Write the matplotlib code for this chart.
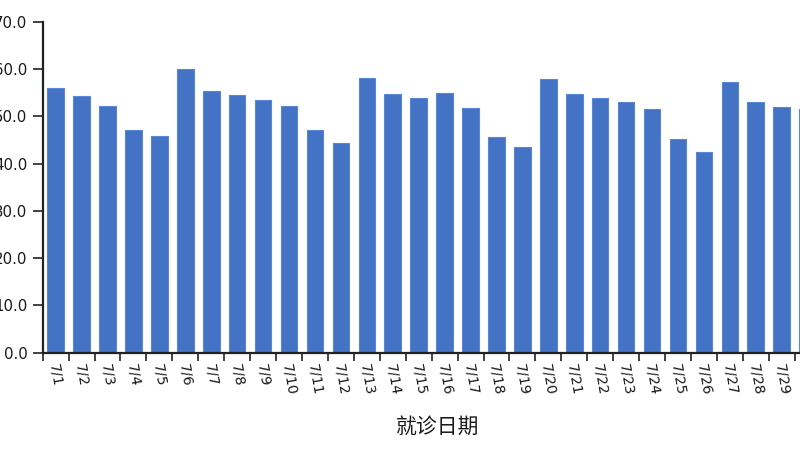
import matplotlib
matplotlib.use("Agg")
import matplotlib.pyplot as plt
import numpy as np

dates = [f"7/{d}" for d in range(1, 31)]
values = [55.9, 54.2, 52.2, 47.0, 45.8, 60.0, 55.4, 54.5, 53.4, 52.2,
          47.0, 44.3, 58.0, 54.8, 53.9, 55.0, 51.7, 45.7, 43.5, 57.8,
          54.8, 53.9, 53.1, 51.5, 45.1, 42.4, 57.2, 53.1, 52.0, 51.5]
y_ticks = [0, 10, 20, 30, 40, 50, 60, 70]
x_title = "就诊日期"

plt.rcParams['font.family'] = ['DejaVu Sans', 'Noto Sans CJK SC']

fig = plt.figure(figsize=(8, 4.5), dpi=100)
ax = fig.add_axes([42.7 / 800, 1 - 352.7 / 450, 777.9 / 800, 331.0 / 450])

x = np.arange(len(dates))
ax.bar(x, values, width=0.64, color='#4472C4', edgecolor='#5a86d6',
       linewidth=0.8, joinstyle='round', zorder=2)

ax.set_xlim(-0.5, len(dates) - 0.5)
ax.set_ylim(0, 70)
ax.set_yticks(y_ticks)
ax.set_yticklabels([f"{v:.1f}" for v in y_ticks], fontsize=10.8, color='#1a1a1a')

# boundary ticks (major), labels at centers (minor)
ax.set_xticks(np.arange(-0.5, len(dates) + 0.5, 1.0))
ax.set_xticklabels([])
ax.set_xticks(x, dates, minor=True)
ax.tick_params(axis='x', which='major', length=5.5, width=1.2, color='#222222')
ax.tick_params(axis='x', which='minor', length=0, pad=7.5)
for lbl in ax.get_xticklabels(minor=True):
    lbl.set_rotation(-80)
    lbl.set_ha('center')
    lbl.set_va('top')
    lbl.set_fontsize(10.2)
    lbl.set_color('#1a1a1a')
ax.tick_params(axis='y', length=7, width=1.2, color='#222222', pad=4)

for side in ['top', 'right']:
    ax.spines[side].set_visible(False)
for side in ['left', 'bottom']:
    ax.spines[side].set_linewidth(1.6)
    ax.spines[side].set_color('#222222')

ax.set_xlabel(x_title, fontsize=15, family=['Noto Sans CJK SC', 'DejaVu Sans'], color='#1a1a1a')
ax.xaxis.set_label_coords(0.5075, -0.2245)
ax.xaxis.label.set_va('center')

fig.savefig('out.png', dpi=100)
